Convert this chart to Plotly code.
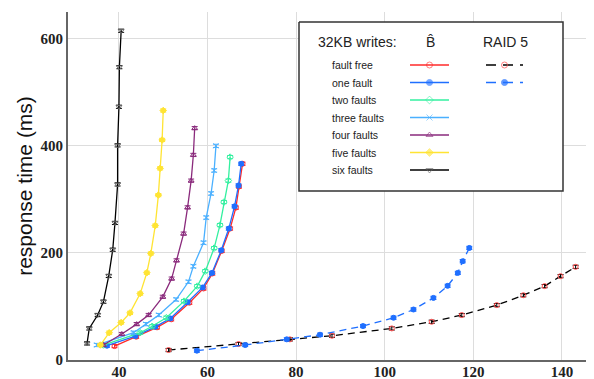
import plotly.graph_objects as go

# ---------------- data ----------------
series_names = ["fault free", "one fault", "two faults", "three faults",
                "four faults", "five faults", "six faults"]

bhat_x = {
    "fault free":   [39.0, 43.9, 48.6, 51.8, 55.9, 59.1, 61.1, 63.2, 65.1, 66.4, 67.1, 67.9],
    "one fault":    [37.3, 43.7, 48.2, 51.6, 55.5, 58.9, 61.0, 63.1, 64.8, 66.1, 67.0, 67.6],
    "two faults":   [36.5, 44.8, 47.5, 50.7, 54.7, 57.7, 59.5, 61.5, 62.8, 63.7, 64.7, 65.1],
    "three faults": [35.0, 43.3, 46.1, 49.0, 52.9, 55.7, 56.8, 59.1, 59.7, 60.8, 61.5, 61.9],
    "four faults":  [36.5, 40.65, 44.0, 46.7, 49.9, 51.9, 53.0, 54.6, 55.5, 56.3, 56.8, 57.1],
    "five faults":  [35.8, 37.8, 40.5, 42.5, 44.8, 46.3, 47.2, 48.2, 48.9, 49.3, 49.75, 50.0],
    "six faults":   [32.8, 33.3, 35.2, 36.5, 37.7, 38.6, 39.1, 39.7, 39.7, 40.0, 40.1, 40.5],
}
bhat_y = {
    "fault free":   [26, 43.5, 61, 76, 107, 133.6, 161.6, 203.7, 245.5, 284.6, 324, 366.5],
    "one fault":    [26.7, 44.7, 62, 77.7, 108, 135.5, 162.7, 205, 245.5, 287, 326, 366.5],
    "two faults":   [28, 51, 63, 79, 110, 138, 166, 209, 252, 295, 335, 379],
    "three faults": [28, 51, 67, 84, 113, 146, 175, 219, 266, 311, 354, 400],
    "four faults":  [28, 48.5, 67, 84, 118, 152, 186, 236, 285, 335, 383, 433],
    "five faults":  [28, 51, 70, 88, 124, 163, 199, 251, 308, 358, 411, 466],
    "six faults":   [31, 59, 84, 109, 157, 206, 256, 328, 401, 473, 547, 615],
}

raid_names = ["fault free", "one fault"]
raid_x = {
    "fault free": [51.2, 67.0, 78.6, 88.1, 101.6, 110.6, 117.4, 125.3, 131.3, 136.1, 139.7, 143.1],
    "one fault":  [57.6, 68.5, 77.9, 85.4, 95.1, 102.0, 106.5, 111.0, 114.2, 116.5, 117.6, 119.1],
}
raid_y = {
    "fault free": [18.6, 29.8, 38.6, 45.3, 59, 71.4, 83.9, 102.5, 121, 138, 156.6, 174],
    "one fault":  [17.4, 28, 38.6, 47.2, 63.4, 78.9, 94.3, 116, 138.5, 162.7, 184.5, 209.3],
}

err_half = 3.0  # small symmetric error bar (ms)

x_ticks = [40, 60, 80, 100, 120, 140]
y_ticks = [0, 200, 400, 600]

legend_title = "32KB writes:"
col_headers = ["B\u0302", "RAID 5"]

# ---------------- styles ----------------
colors = {
    "fault free": "#ff2a2a",
    "one fault": "#1f6fff",
    "two faults": "#33f0a0",
    "three faults": "#4ab0ff",
    "four faults": "#8a2a7c",
    "five faults": "#ffe433",
    "six faults": "#000000",
}
symbols = {
    "fault free": "circle-open",
    "one fault": "circle",
    "two faults": "diamond-open",
    "three faults": "x-thin-open",
    "four faults": "triangle-up-open",
    "five faults": "diamond",
    "six faults": "triangle-down-open",
}
marker_colors = dict(colors)
marker_colors["six faults"] = "#666666"
raid_line_colors = {"fault free": "#000000", "one fault": "#1f6fff"}
raid_marker_colors = {"fault free": "#ff4a4a", "one fault": "#1f6fff"}

fig = go.Figure()

for name in series_names:
    fig.add_trace(go.Scatter(
        x=bhat_x[name], y=bhat_y[name], mode="lines+markers",
        line=dict(color=colors[name], width=1.3),
        marker=dict(symbol=symbols[name], size=5, color=marker_colors[name],
                    line=dict(width=1, color=marker_colors[name])),
        error_y=dict(type="constant", value=err_half, color=colors[name],
                     thickness=1, width=3),
        showlegend=False, hoverinfo="skip"))

for name in raid_names:
    fig.add_trace(go.Scatter(
        x=raid_x[name], y=raid_y[name], mode="lines+markers",
        line=dict(color=raid_line_colors[name], width=1.3, dash="7px,5px"),
        marker=dict(symbol=symbols[name], size=5, color=raid_marker_colors[name],
                    line=dict(width=1, color=raid_marker_colors[name])),
        error_y=dict(type="constant", value=err_half, color=raid_line_colors[name],
                     thickness=1, width=3),
        showlegend=False, hoverinfo="skip"))

# ---------------- custom legend on a pixel-aligned overlay axis ----------------
# The page body adds an 8px offset, so the figure is sized to fit inside the window.
OFF = 8
PAGE_W, PAGE_H = 594, 379
W, H = PAGE_W - OFF, PAGE_H - OFF
PL, PR, PT, PB = 68, 592, 12, 360          # plot area in page pixels
ML, MR, MT, MB = PL - OFF, W - (PR - OFF), PT - OFF, H - (PB - OFF)

box = dict(x0=299, x1=563, y0=22, y1=191)
row_y0, row_dy = 65, 17.5
lab_x = 330
bh_x0, bh_x1 = 410, 449
rd_x0, rd_x1 = 486, 523

fig.add_trace(go.Scatter(
    x=[box["x0"], box["x1"], box["x1"], box["x0"], box["x0"]],
    y=[box["y0"], box["y0"], box["y1"], box["y1"], box["y0"]],
    mode="lines", fill="toself", fillcolor="white",
    line=dict(color="#333333", width=1.5),
    xaxis="x2", yaxis="y2", showlegend=False, hoverinfo="skip"))

for i, name in enumerate(series_names):
    ry = row_y0 + i * row_dy
    fig.add_trace(go.Scatter(
        x=[bh_x0, (bh_x0 + bh_x1) / 2, bh_x1], y=[ry, ry, ry], mode="lines",
        line=dict(color=colors[name], width=1.5),
        xaxis="x2", yaxis="y2", showlegend=False, hoverinfo="skip"))
    fig.add_trace(go.Scatter(
        x=[(bh_x0 + bh_x1) / 2], y=[ry], mode="markers",
        marker=dict(symbol=symbols[name], size=6, color=marker_colors[name], opacity=0.6,
                    line=dict(width=1, color=marker_colors[name])),
        xaxis="x2", yaxis="y2", showlegend=False, hoverinfo="skip"))
    fig.add_annotation(x=lab_x, y=ry, xref="x2", yref="y2", text=name,
                       showarrow=False, xanchor="left", yanchor="middle",
                       font=dict(family="Liberation Sans", size=10.5, color="#222"))

for i, name in enumerate(raid_names):
    ry = row_y0 + i * row_dy
    fig.add_trace(go.Scatter(
        x=[rd_x0, rd_x1], y=[ry, ry], mode="lines",
        line=dict(color=raid_line_colors[name], width=1.5, dash="10px,7px"),
        xaxis="x2", yaxis="y2", showlegend=False, hoverinfo="skip"))
    fig.add_trace(go.Scatter(
        x=[(rd_x0 + rd_x1) / 2], y=[ry], mode="markers",
        marker=dict(symbol=symbols[name], size=6, color=raid_marker_colors[name], opacity=0.7,
                    line=dict(width=1, color=raid_marker_colors[name])),
        xaxis="x2", yaxis="y2", showlegend=False, hoverinfo="skip"))

fig.add_annotation(x=357, y=42, xref="x2", yref="y2", text=legend_title, showarrow=False,
                   font=dict(family="Liberation Sans", size=14, color="#222"))
fig.add_annotation(x=430, y=42, xref="x2", yref="y2", text=col_headers[0], showarrow=False,
                   font=dict(family="Liberation Sans", size=14, color="#222"))
fig.add_annotation(x=505, y=42, xref="x2", yref="y2", text=col_headers[1], showarrow=False,
                   font=dict(family="Liberation Sans", size=14, color="#222"))

tick_font = dict(family="Liberation Sans Narrow", size=15, color="#222", weight="bold")

fig.update_layout(
    width=W, height=H,
    margin=dict(l=ML, r=MR, t=MT, b=MB, pad=0),
    paper_bgcolor="white", plot_bgcolor="white",
    showlegend=False,
    xaxis=dict(range=[28.5, 146.8], tickvals=x_ticks, ticktext=[str(v) for v in x_ticks],
               showgrid=True, gridcolor="#dddddd", gridwidth=1,
               showline=True, linecolor="#666666", linewidth=2,
               zeroline=False, ticks="", tickfont=tick_font, automargin=False,
               ticklabelstandoff=-3),
    yaxis=dict(range=[0, 650], tickvals=y_ticks, ticktext=[str(v) for v in y_ticks],
               showgrid=True, gridcolor="#dddddd", gridwidth=1,
               showline=True, linecolor="#666666", linewidth=2,
               zeroline=False, ticks="", tickfont=tick_font, automargin=False,
               title=dict(text="response time (ms)", standoff=2,
                          font=dict(family="Liberation Sans", size=21, color="#111"))),
    xaxis2=dict(range=[PL, PR], overlaying="x", visible=False, fixedrange=True),
    yaxis2=dict(range=[PB, PT], overlaying="y", visible=False, fixedrange=True),
)

fig.write_html("out.html")
